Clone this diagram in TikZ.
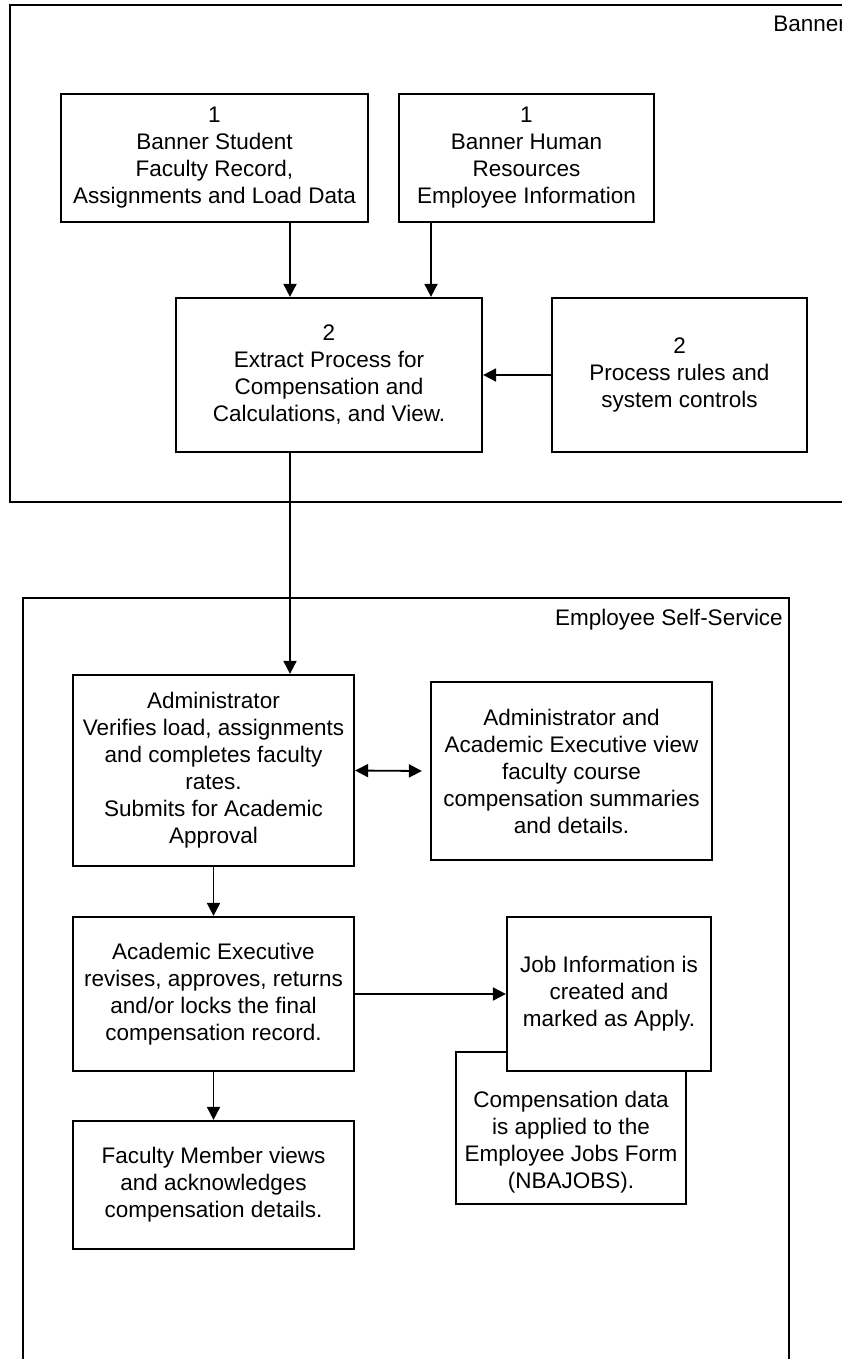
\documentclass[tikz,border=0pt]{standalone}
\usepackage{fontspec}
\setmainfont{Liberation Sans}
\usetikzlibrary{arrows.meta}
\begin{document}
\begin{tikzpicture}[x=1pt,y=-1pt,
  txt/.style={font=\fontsize{22.5}{27}\selectfont, align=center, inner sep=0pt},
  box/.style={txt, draw, line width=2.2pt, fill=white},
  frame/.style={draw, line width=2.2pt},
  arr/.style={-{Triangle[length=13pt,width=13pt]}, line width=1.8pt},
  darr/.style={{Triangle[length=13pt,width=13pt]}-{Triangle[length=13pt,width=13pt]}, line width=1.8pt}]
\useasboundingbox (0,0) rectangle (842,1359);
\clip (0,0) rectangle (842,1359);
% frames
\draw[frame] (10,5) rectangle (853,502);
\node[txt, anchor=base east] (banlbl) at (846,32) {Banner};
\draw[frame] (23,598) rectangle (789,1380);
\node[txt, anchor=base east] (esslbl) at (783,625) {Employee Self-Service};
% Banner boxes
\node[box, minimum width=307, minimum height=128] (B1) at (214.5,158)
  {1\\Banner Student\\Faculty Record,\\Assignments and Load Data};
\node[box, minimum width=255, minimum height=128] (B2) at (526.5,158)
  {1\\Banner Human\\Resources\\Employee Information};
\node[box, minimum width=306, minimum height=154] (E) at (329,375)
  {2\\Extract Process for\\Compensation and\\Calculations, and View.};
\node[box, minimum width=255, minimum height=154] (P) at (679.5,375)
  {2\\Process rules and\\system controls};
% ESS boxes
\node[box, minimum width=281, minimum height=191] (Adm) at (213.5,770.5)
  {Administrator\\Verifies load, assignments\\and completes faculty\\rates.\\Submits for Academic\\Approval};
\node[box, minimum width=281, minimum height=178] (View) at (571.5,771)
  {Administrator and\\Academic Executive view\\faculty course\\compensation summaries\\and details.};
\node[box, minimum width=281, minimum height=154] (AE) at (213.5,994)
  {Academic Executive\\revises, approves, returns\\and/or locks the final\\compensation record.};
\node[box, minimum width=230, minimum height=152] (Comp) at (571,1128) {};
\node[txt] (CompT) at (571,1142)
  {Compensation data\\is applied to the\\Employee Jobs Form\\(NBAJOBS).};
\node[box, minimum width=204, minimum height=154] (Job) at (609,994)
  {Job Information is\\created and\\marked as Apply.};
\node[box, minimum width=281, minimum height=128] (FM) at (213.5,1185)
  {Faculty Member views\\and acknowledges\\compensation details.};
% connectors
\coordinate (xa) at (290,0);
\coordinate (xb) at (431,0);
\draw[arr] (B1.south -| xa) -- (E.north -| xa);
\draw[arr] (B2.south -| xb) -- (E.north -| xb);
\draw[arr] (P.west) -- (E.east);
\draw[arr] (E.south -| xa) -- (Adm.north -| xa);
\draw[darr] (Adm.east) -- ([xshift=-8pt]View.west);
\draw[arr] (Adm.south) -- (AE.north);
\draw[arr] (AE.east) -- (Job.west);
\draw[arr] (AE.south) -- (FM.north);
\end{tikzpicture}
\end{document}
